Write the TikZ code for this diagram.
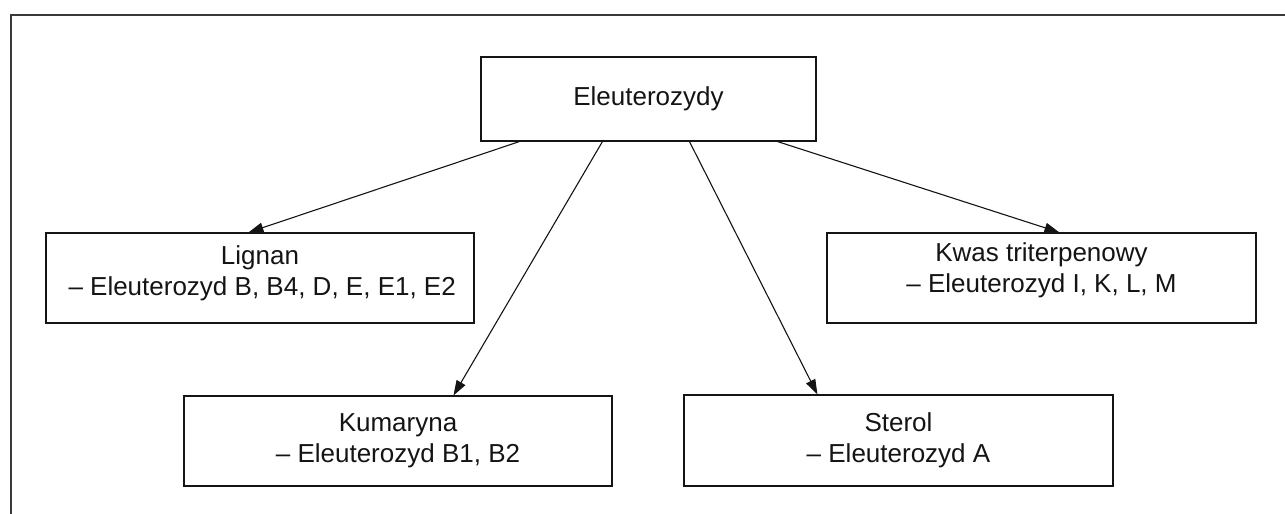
\documentclass[tikz,border=0pt]{standalone}
\usepackage{fontspec}
\setmainfont{Liberation Sans}
\usetikzlibrary{arrows.meta}
\definecolor{ink}{HTML}{141414}
\definecolor{framecol}{HTML}{3A3A3A}
\tikzset{
  box/.style={draw=ink, line width=1.1pt, rectangle, inner sep=0pt, align=center,
    text=ink, font=\fontsize{26}{32}\selectfont},
  boxtext/.style={align=center, text=ink, font=\fontsize{26}{32}\selectfont, inner sep=0pt},
  conn/.style={draw=ink, line width=1.1pt, -{Triangle[length=15pt,width=10pt]}},
  framestyle/.style={draw=framecol, line width=1.4pt}
}
\begin{document}
\begin{tikzpicture}[x=1pt,y=-1pt]
\useasboundingbox (0,0) rectangle (1285,514);
\coordinate (frTR) at (1290,15);
\coordinate (frTL) at (11,15);
\coordinate (frBL) at (11,520);
\draw[framestyle] (frTR) -- (frTL) -- (frBL);

\node[box, minimum width=335pt, minimum height=84pt] (top) at (648.5,99) {Eleuterozydy};
\node[box, minimum width=428pt, minimum height=90pt,
  label={[boxtext, yshift=5pt]center:Lignan\\[-1pt]\,– Eleuterozyd B, B4, D, E, E1, E2}] (lignan) at (260,278) {};
\node[box, minimum width=429pt, minimum height=90pt,
  label={[boxtext, yshift=8pt]center:Kwas triterpenowy\\[-1pt]– Eleuterozyd I, K, L, M}] (kwas) at (1041.5,278) {};
\node[box, minimum width=428pt, minimum height=90pt] (kum) at (398,441)
  {Kumaryna\\[-1pt]– Eleuterozyd B1, B2};
\node[box, minimum width=429pt, minimum height=91pt] (sterol) at (898.5,440.5)
  {Sterol\\[-1pt]– Eleuterozyd A};

\draw[conn] ([xshift=39pt]top.south west) -- ([xshift=203pt]lignan.north west);
\draw[conn] ([xshift=122pt]top.south west) -- ([xshift=270pt]kum.north west);
\draw[conn] ([xshift=209pt]top.south west) -- ([xshift=134pt]sterol.north west);
\draw[conn] ([xshift=297pt]top.south west) -- ([xshift=233pt]kwas.north west);
\end{tikzpicture}
\end{document}
